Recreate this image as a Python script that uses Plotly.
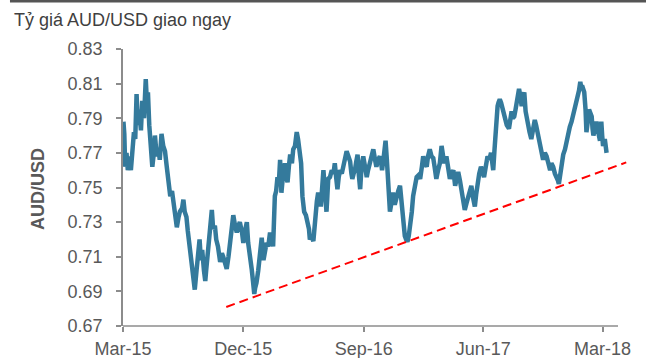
import plotly.graph_objects as go

# Daily-ish AUD/USD spot series
dates = [
    "2015-03-02", "2015-03-04", "2015-03-06", "2015-03-09", "2015-03-12", "2015-03-16", "2015-03-19", "2015-03-22",
    "2015-03-26", "2015-03-29", "2015-04-01", "2015-04-04", "2015-04-07", "2015-04-11", "2015-04-14", "2015-04-18",
    "2015-04-22", "2015-04-25", "2015-04-27", "2015-04-30", "2015-05-04", "2015-05-07", "2015-05-11", "2015-05-13",
    "2015-05-17", "2015-05-21", "2015-05-24", "2015-05-28", "2015-06-01", "2015-06-05", "2015-06-09", "2015-06-13",
    "2015-06-17", "2015-06-21", "2015-06-24", "2015-06-29", "2015-07-02", "2015-07-06", "2015-07-09", "2015-07-14",
    "2015-07-17", "2015-07-20", "2015-07-24", "2015-07-27", "2015-07-30", "2015-08-02", "2015-08-04", "2015-08-08",
    "2015-08-12", "2015-08-16", "2015-08-19", "2015-08-23", "2015-08-26", "2015-08-29", "2015-09-02", "2015-09-05",
    "2015-09-07", "2015-09-11", "2015-09-14", "2015-09-18", "2015-09-20", "2015-09-23", "2015-09-27", "2015-09-30",
    "2015-10-04", "2015-10-09", "2015-10-13", "2015-10-16", "2015-10-20", "2015-10-24", "2015-10-28", "2015-11-01",
    "2015-11-05", "2015-11-08", "2015-11-12", "2015-11-16", "2015-11-20", "2015-11-23", "2015-11-28", "2015-12-01",
    "2015-12-04", "2015-12-09", "2015-12-12", "2015-12-16", "2015-12-20", "2015-12-23", "2015-12-26", "2015-12-28",
    "2015-12-31", "2016-01-04", "2016-01-08", "2016-01-12", "2016-01-16", "2016-01-19", "2016-01-23", "2016-01-27",
    "2016-01-31", "2016-02-04", "2016-02-07", "2016-02-11", "2016-02-14", "2016-02-17", "2016-02-20", "2016-02-23",
    "2016-02-26", "2016-03-01", "2016-03-05", "2016-03-08", "2016-03-11", "2016-03-14", "2016-03-17", "2016-03-21",
    "2016-03-24", "2016-03-28", "2016-04-01", "2016-04-04", "2016-04-06", "2016-04-09", "2016-04-11", "2016-04-14",
    "2016-04-16", "2016-04-18", "2016-04-22", "2016-04-26", "2016-04-29", "2016-05-01", "2016-05-05", "2016-05-09",
    "2016-05-11", "2016-05-14", "2016-05-17", "2016-05-20", "2016-05-24", "2016-05-26", "2016-05-29", "2016-06-01",
    "2016-06-04", "2016-06-08", "2016-06-10", "2016-06-12", "2016-06-16", "2016-06-20", "2016-06-24", "2016-06-27",
    "2016-06-30", "2016-07-03", "2016-07-06", "2016-07-09", "2016-07-13", "2016-07-16", "2016-07-20", "2016-07-24",
    "2016-07-28", "2016-08-01", "2016-08-04", "2016-08-06", "2016-08-09", "2016-08-12", "2016-08-15", "2016-08-18",
    "2016-08-21", "2016-08-24", "2016-08-27", "2016-08-31", "2016-09-04", "2016-09-08", "2016-09-11", "2016-09-15",
    "2016-09-19", "2016-09-23", "2016-09-27", "2016-09-30", "2016-10-04", "2016-10-08", "2016-10-11", "2016-10-13",
    "2016-10-17", "2016-10-21", "2016-10-24", "2016-10-27", "2016-10-29", "2016-10-31", "2016-11-04", "2016-11-07",
    "2016-11-11", "2016-11-15", "2016-11-19", "2016-11-23", "2016-11-26", "2016-11-28", "2016-12-02", "2016-12-04",
    "2016-12-07", "2016-12-10", "2016-12-13", "2016-12-16", "2016-12-20", "2016-12-23", "2016-12-27", "2016-12-31",
    "2017-01-04", "2017-01-08", "2017-01-12", "2017-01-15", "2017-01-19", "2017-01-23", "2017-01-26", "2017-01-30",
    "2017-02-03", "2017-02-07", "2017-02-10", "2017-02-14", "2017-02-18", "2017-02-22", "2017-02-26", "2017-03-01",
    "2017-03-04", "2017-03-09", "2017-03-13", "2017-03-17", "2017-03-21", "2017-03-25", "2017-03-29", "2017-04-02",
    "2017-04-05", "2017-04-09", "2017-04-13", "2017-04-16", "2017-04-20", "2017-04-24", "2017-04-28", "2017-05-02",
    "2017-05-05", "2017-05-09", "2017-05-13", "2017-05-16", "2017-05-19", "2017-05-23", "2017-05-27", "2017-05-31",
    "2017-06-03", "2017-06-07", "2017-06-11", "2017-06-15", "2017-06-19", "2017-06-22", "2017-06-24", "2017-06-27",
    "2017-06-29", "2017-07-01", "2017-07-04", "2017-07-06", "2017-07-09", "2017-07-12", "2017-07-14", "2017-07-18",
    "2017-07-21", "2017-07-25", "2017-07-30", "2017-08-02", "2017-08-05", "2017-08-08", "2017-08-11", "2017-08-14",
    "2017-08-16", "2017-08-19", "2017-08-22", "2017-08-25", "2017-08-28", "2017-08-31", "2017-09-03", "2017-09-06",
    "2017-09-09", "2017-09-12", "2017-09-15", "2017-09-19", "2017-09-23", "2017-09-27", "2017-09-30", "2017-10-03",
    "2017-10-06", "2017-10-09", "2017-10-12", "2017-10-16", "2017-10-20", "2017-10-24", "2017-10-28", "2017-11-01",
    "2017-11-04", "2017-11-08", "2017-11-12", "2017-11-16", "2017-11-19", "2017-11-21", "2017-11-24", "2017-11-27",
    "2017-12-01", "2017-12-05", "2017-12-09", "2017-12-13", "2017-12-16", "2017-12-20", "2017-12-24", "2017-12-28",
    "2017-12-31", "2018-01-03", "2018-01-06", "2018-01-09", "2018-01-11", "2018-01-13", "2018-01-16", "2018-01-18",
    "2018-01-21", "2018-01-23", "2018-01-26", "2018-01-29", "2018-02-01", "2018-02-04", "2018-02-06", "2018-02-08",
    "2018-02-11", "2018-02-15", "2018-02-19", "2018-02-23", "2018-02-24", "2018-02-26", "2018-02-28", "2018-03-02",
    "2018-03-06", "2018-03-10",
]
aud_usd = [
    0.788, 0.781, 0.762, 0.770, 0.760, 0.768, 0.760, 0.772,
    0.782, 0.778, 0.804, 0.786, 0.795, 0.783, 0.800, 0.790,
    0.8126, 0.797, 0.805, 0.786, 0.775, 0.762, 0.771, 0.780,
    0.768, 0.773, 0.766, 0.781, 0.774, 0.771, 0.762, 0.753,
    0.745, 0.748, 0.741, 0.735, 0.727, 0.733, 0.736, 0.738,
    0.743, 0.736, 0.733, 0.725, 0.718, 0.714, 0.710, 0.700,
    0.691, 0.702, 0.712, 0.720, 0.708, 0.714, 0.702, 0.696,
    0.702, 0.712, 0.722, 0.730, 0.737, 0.726, 0.728, 0.720,
    0.716, 0.707, 0.712, 0.710, 0.706, 0.703, 0.710, 0.718,
    0.726, 0.734, 0.728, 0.724, 0.728, 0.730, 0.724, 0.718,
    0.724, 0.730, 0.718, 0.712, 0.703, 0.696, 0.6885, 0.692,
    0.695, 0.702, 0.710, 0.721, 0.708, 0.712, 0.718, 0.716,
    0.724, 0.720, 0.716, 0.745, 0.748, 0.756, 0.752, 0.766,
    0.747, 0.758, 0.764, 0.756, 0.753, 0.762, 0.769, 0.764,
    0.772, 0.774, 0.782, 0.778, 0.774, 0.770, 0.764, 0.745,
    0.740, 0.736, 0.734, 0.730, 0.726, 0.720, 0.722, 0.719,
    0.726, 0.737, 0.742, 0.747, 0.744, 0.739, 0.752, 0.760,
    0.750, 0.736, 0.745, 0.755, 0.756, 0.760, 0.758, 0.764,
    0.756, 0.749, 0.756, 0.760, 0.758, 0.762, 0.768, 0.771,
    0.768, 0.765, 0.758, 0.755, 0.758, 0.760, 0.765, 0.769,
    0.757, 0.749, 0.762, 0.768, 0.762, 0.756, 0.760, 0.764,
    0.768, 0.772, 0.766, 0.762, 0.766, 0.768, 0.764, 0.760,
    0.768, 0.777, 0.766, 0.755, 0.742, 0.736, 0.742, 0.747,
    0.740, 0.743, 0.748, 0.751, 0.742, 0.733, 0.727, 0.722,
    0.720, 0.7187, 0.722, 0.727, 0.736, 0.745, 0.750, 0.756,
    0.757, 0.755, 0.762, 0.768, 0.764, 0.762, 0.768, 0.772,
    0.768, 0.767, 0.762, 0.755, 0.760, 0.764, 0.774, 0.770,
    0.764, 0.768, 0.762, 0.755, 0.758, 0.760, 0.751, 0.756,
    0.759, 0.754, 0.749, 0.744, 0.737, 0.741, 0.745, 0.748,
    0.751, 0.744, 0.739, 0.746, 0.753, 0.758, 0.762, 0.759,
    0.756, 0.762, 0.768, 0.766, 0.770, 0.764, 0.760, 0.772,
    0.782, 0.790, 0.797, 0.799, 0.801, 0.799, 0.797, 0.794,
    0.791, 0.786, 0.784, 0.788, 0.794, 0.790, 0.791, 0.795,
    0.799, 0.803, 0.807, 0.803, 0.797, 0.802, 0.805, 0.794,
    0.789, 0.785, 0.782, 0.778, 0.784, 0.789, 0.786, 0.782,
    0.776, 0.772, 0.768, 0.766, 0.770, 0.768, 0.764, 0.760,
    0.764, 0.762, 0.758, 0.756, 0.754, 0.752, 0.758, 0.766,
    0.769, 0.772, 0.778, 0.782, 0.785, 0.788, 0.792, 0.797,
    0.799, 0.801, 0.806, 0.811, 0.808, 0.809, 0.806, 0.805,
    0.795, 0.782, 0.788, 0.795, 0.793, 0.791, 0.784, 0.780,
    0.784, 0.788, 0.782, 0.777, 0.782, 0.788, 0.780, 0.774,
    0.778, 0.770,
]

# Support trend line (start / end)
trend_dates = ["2015-10-23", "2018-04-24"]
trend_values = [0.681, 0.7645]

y_ticks = [0.67, 0.69, 0.71, 0.73, 0.75, 0.77, 0.79, 0.81, 0.83]
x_ticks = ["2015-03-01", "2015-12-01", "2016-09-01", "2017-06-01", "2018-03-01"]
x_tick_labels = ["Mar-15", "Dec-15", "Sep-16", "Jun-17", "Mar-18"]

FONT = "Liberation Sans, Arial, sans-serif"
AXIS_GREY = "#8c8c8c"

fig = go.Figure()
fig.add_trace(go.Scatter(
    x=dates, y=aud_usd, mode="lines",
    line=dict(color="#347A9C", width=4.5),
    hoverinfo="skip",
))
fig.add_trace(go.Scatter(
    x=trend_dates, y=trend_values, mode="lines",
    line=dict(color="#FF0000", width=2, dash="9px,5px"),
    hoverinfo="skip",
))

fig.update_layout(
    width=646, height=358,
    margin=dict(l=123, r=18, t=49, b=32),
    plot_bgcolor="white", paper_bgcolor="white",
    showlegend=False,
    font=dict(family=FONT, size=18, color="#595959"),
    shapes=[
        # dark rule across the top of the panel
        dict(type="rect", xref="paper", yref="paper",
             x0=-0.2238, x1=1.04, y0=1.1679, y1=1.18,
             fillcolor="#555555", line=dict(width=0), layer="above"),
        # x axis baseline (stops short of the trend line's end)
        dict(type="line", xref="paper", yref="paper",
             x0=0, x1=0.9802, y0=0, y1=0,
             line=dict(color=AXIS_GREY, width=1.5), layer="above"),
    ],
    annotations=[
        dict(text="Tỷ giá AUD/USD giao ngay", xref="paper", yref="paper",
             x=-0.2198, y=1.1047, xanchor="left", yanchor="middle",
             showarrow=False, font=dict(family=FONT, size=18, color="#404040")),
        dict(text="<b>AUD/USD</b>", xref="paper", yref="paper",
             x=-0.1683, y=0.495, xanchor="center", yanchor="middle",
             textangle=-90, showarrow=False,
             font=dict(family=FONT, size=18, color="#595959")),
    ],
)

fig.update_xaxes(
    type="date",
    range=["2015-03-01", "2018-04-28"],
    tickvals=x_ticks, ticktext=x_tick_labels,
    ticks="outside", ticklen=5, tickwidth=1.5, tickcolor=AXIS_GREY,
    ticklabelstandoff=1,
    showline=False, showgrid=False, zeroline=False,
    automargin=False,
)
fig.update_yaxes(
    range=[0.67, 0.83],
    tickvals=y_ticks, tickformat=".2f",
    ticks="outside", ticklen=5, tickwidth=1.5, tickcolor=AXIS_GREY,
    ticklabelstandoff=10,
    showline=True, linecolor=AXIS_GREY, linewidth=1.5,
    showgrid=False, zeroline=False,
    automargin=False,
)

fig.write_html("out.html")
